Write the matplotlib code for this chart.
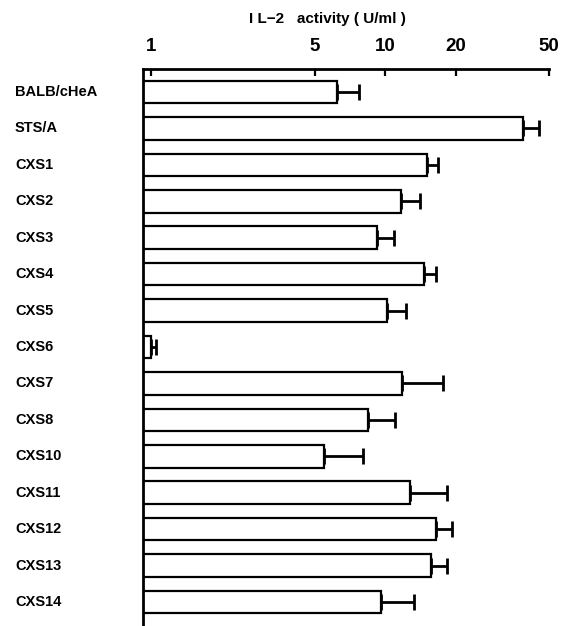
import matplotlib
matplotlib.use("Agg")
import matplotlib.pyplot as plt
import matplotlib.ticker as mticker
import matplotlib.transforms as mtransforms
import numpy as np

STRAINS = ["BALB/cHeA", "STS/A", "CXS1", "CXS2", "CXS3", "CXS4", "CXS5", "CXS6",
           "CXS7", "CXS8", "CXS10", "CXS11", "CXS12", "CXS13", "CXS14"]
# IL-2 activity (U/ml), mean and upper end of the error bar
MEAN = [6.2, 38.9, 15.0, 11.7, 9.2, 14.7, 10.2, 1.0, 11.8, 8.4, 5.5, 12.8, 16.4, 15.7, 9.6]
UPPER = [7.7, 45.5, 16.8, 14.0, 10.9, 16.5, 12.3, 1.05, 17.7, 11.0, 8.0, 18.4, 19.3, 18.4, 13.3]
TICKS = [1, 5, 10, 20, 50]

FONT = ["Liberation Sans", "DejaVu Sans"]


def main():
    fig = plt.figure(figsize=(5.67, 6.26), dpi=100)
    ax = fig.add_axes([143 / 567, 0.0, (549 - 143) / 567, 1 - 69 / 626])

    y = np.arange(len(STRAINS))
    mean = np.array(MEAN)
    err = np.array(UPPER) - mean

    ax.barh(y, mean, height=0.62, color="white", edgecolor="black", linewidth=1.6)
    ax.errorbar(mean, y, xerr=[np.zeros_like(err), err], fmt="none", ecolor="black",
                elinewidth=2.0, capsize=6, capthick=2.0)

    ax.set_xscale("log")
    ax.set_xlim(0.924, 50)
    ax.set_ylim(len(STRAINS) - 1 + 0.66, -0.63)

    ax.xaxis.set_ticks_position("top")
    ax.xaxis.set_major_locator(mticker.FixedLocator(TICKS))
    ax.xaxis.set_minor_locator(mticker.NullLocator())
    ax.set_xticklabels([str(t) for t in TICKS], fontfamily=FONT, fontweight="bold", fontsize=13.5)
    ax.tick_params(axis="x", direction="in", length=5, width=1.6, pad=10)

    ax.set_yticks([])
    trans = mtransforms.blended_transform_factory(fig.transFigure, ax.transData)
    for i, name in enumerate(STRAINS):
        ax.text(15 / 567, i, name, transform=trans, ha="left", va="center",
                fontfamily=FONT, fontweight="bold", fontsize=10.5)

    for side in ["right", "bottom"]:
        ax.spines[side].set_visible(False)
    ax.spines["top"].set_linewidth(2.0)
    ax.spines["left"].set_linewidth(2.0)

    fig.text(327 / 567, 1 - 19 / 626, "I L\u22122   activity ( U/ml )", ha="center", va="center",
             fontfamily=FONT, fontweight="bold", fontsize=11)

    fig.savefig("out.png", dpi=100)
    plt.close(fig)


if __name__ == "__main__":
    main()
